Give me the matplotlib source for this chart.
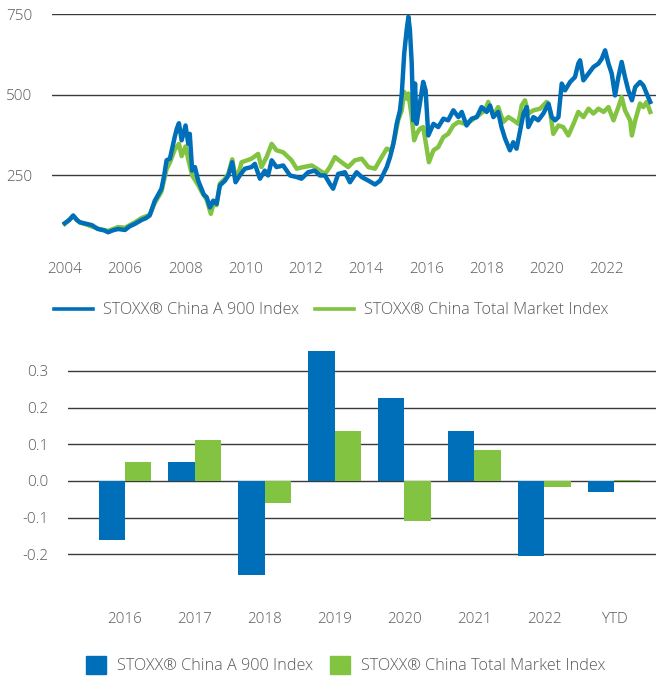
import matplotlib.pyplot as plt
import matplotlib.patches as mpatches
from matplotlib.lines import Line2D

# index levels (decimal years)
a900_t = [2004.0, 2004.15, 2004.28, 2004.4, 2004.5, 2004.72, 2004.9, 2005.1, 2005.3, 2005.44,
          2005.6, 2005.77, 2006.0, 2006.15, 2006.33, 2006.55, 2006.7, 2006.82, 2006.99, 2007.1,
          2007.21, 2007.3, 2007.38, 2007.49, 2007.58, 2007.65, 2007.72, 2007.79, 2007.88, 2008.01,
          2008.1, 2008.15, 2008.23, 2008.32, 2008.43, 2008.54, 2008.62, 2008.71, 2008.82, 2008.87,
          2008.93, 2009.04, 2009.15, 2009.32, 2009.43, 2009.56, 2009.67, 2009.81, 2009.98, 2010.2,
          2010.31, 2010.48, 2010.64, 2010.75, 2010.87, 2011.03, 2011.25, 2011.48, 2011.7, 2011.86,
          2012.08, 2012.3, 2012.47, 2012.64, 2012.8, 2012.91, 2013.08, 2013.3, 2013.47, 2013.69,
          2013.86, 2014.08, 2014.3, 2014.47, 2014.58, 2014.69, 2014.8, 2014.91, 2015.02, 2015.13,
          2015.19, 2015.27, 2015.35, 2015.41, 2015.46, 2015.52, 2015.57, 2015.63, 2015.68, 2015.79,
          2015.9, 2015.98, 2016.07, 2016.24, 2016.4, 2016.57, 2016.73, 2016.9, 2017.07, 2017.18,
          2017.34, 2017.51, 2017.68, 2017.84, 2018.01, 2018.12, 2018.23, 2018.39, 2018.5, 2018.62,
          2018.78, 2018.89, 2019.0, 2019.12, 2019.23, 2019.34, 2019.39, 2019.56, 2019.72, 2019.89,
          2020.06, 2020.17, 2020.28, 2020.39, 2020.5, 2020.61, 2020.78, 2020.94, 2021.05, 2021.11,
          2021.22, 2021.39, 2021.55, 2021.72, 2021.83, 2021.94, 2022.05, 2022.16, 2022.27, 2022.38,
          2022.49, 2022.6, 2022.71, 2022.83, 2022.94, 2023.1, 2023.21, 2023.32, 2023.44]
a900_v = [102, 112, 126, 112, 105, 100, 96, 84, 80, 74,
          80, 84, 81, 92, 100, 112, 118, 126, 172, 190,
          209, 250, 297, 302, 340, 369, 395, 412, 359, 405,
          348, 379, 265, 276, 234, 209, 190, 183, 151, 160,
          172, 162, 219, 234, 250, 291, 229, 250, 271, 276,
          286, 240, 265, 250, 297, 276, 281, 250, 245, 240,
          260, 265, 250, 250, 224, 209, 255, 260, 229, 260,
          245, 234, 222, 234, 255, 276, 307, 348, 410, 452,
          504, 628, 700, 742, 700, 597, 421, 535, 410, 473,
          540, 514, 374, 410, 400, 426, 421, 452, 431, 447,
          405, 426, 431, 462, 447, 467, 431, 447, 400, 364,
          328, 353, 333, 390, 442, 462, 400, 431, 421, 442,
          473, 431, 421, 431, 535, 514, 540, 555, 597, 607,
          545, 566, 586, 597, 612, 638, 597, 566, 498, 555,
          602, 555, 514, 483, 524, 540, 529, 504, 478]

total_t = [2004.0, 2004.28, 2004.5, 2004.72, 2005.1, 2005.44, 2005.77, 2006.0, 2006.33, 2006.55,
           2006.82, 2006.99, 2007.21, 2007.38, 2007.49, 2007.65, 2007.79, 2007.88, 2008.01, 2008.1,
           2008.23, 2008.43, 2008.54, 2008.71, 2008.85, 2008.93, 2009.04, 2009.15, 2009.32, 2009.43,
           2009.56, 2009.67, 2009.81, 2009.87, 2010.2, 2010.42, 2010.53, 2010.7, 2010.87, 2011.03,
           2011.25, 2011.53, 2011.7, 2011.92, 2012.2, 2012.47, 2012.64, 2012.8, 2012.97, 2013.19,
           2013.41, 2013.63, 2013.86, 2014.08, 2014.3, 2014.52, 2014.69, 2014.85, 2014.96, 2015.07,
           2015.19, 2015.27, 2015.35, 2015.41, 2015.52, 2015.6, 2015.68, 2015.79, 2015.9, 2016.01,
           2016.09, 2016.24, 2016.4, 2016.57, 2016.73, 2016.9, 2017.07, 2017.29, 2017.51, 2017.73,
           2017.95, 2018.06, 2018.23, 2018.39, 2018.56, 2018.73, 2018.9, 2019.06, 2019.17, 2019.28,
           2019.39, 2019.56, 2019.78, 2020.0, 2020.11, 2020.22, 2020.39, 2020.55, 2020.72, 2020.89,
           2021.05, 2021.22, 2021.39, 2021.55, 2021.72, 2021.89, 2022.05, 2022.22, 2022.38, 2022.49,
           2022.6, 2022.77, 2022.83, 2022.94, 2023.1, 2023.21, 2023.32, 2023.44]
total_v = [100, 124, 104, 98, 85, 78, 90, 88, 105, 118,
           128, 165, 200, 270, 290, 330, 348, 310, 340, 300,
           250, 220, 200, 175, 131, 160, 158, 225, 240, 255,
           300, 240, 270, 291, 302, 317, 276, 307, 348, 328,
           322, 297, 271, 276, 281, 265, 255, 276, 307, 291,
           276, 297, 302, 276, 271, 307, 333, 328, 369, 421,
           452, 509, 488, 504, 431, 359, 379, 395, 400, 338,
           291, 328, 338, 369, 379, 405, 416, 410, 421, 436,
           452, 478, 436, 462, 416, 431, 421, 410, 467, 483,
           442, 452, 457, 478, 452, 379, 405, 400, 374, 410,
           447, 431, 457, 442, 457, 447, 462, 421, 462, 493,
           452, 421, 374, 421, 473, 462, 478, 447]

years = ['2016', '2017', '2018', '2019', '2020', '2021', '2022', 'YTD']
a900_ret = [-0.162, 0.053, -0.257, 0.355, 0.225, 0.135, -0.205, -0.029]
total_ret = [0.053, 0.113, -0.061, 0.135, -0.108, 0.085, -0.017, 0.002]

names = ['STOXX® China A 900 Index', 'STOXX® China Total Market Index']

BLUE = '#006FB9'
GREEN = '#82C341'
TXT = '#5a5a5a'
GRID = '#3a3a3a'

plt.rcParams['font.family'] = ['Open Sans', 'DejaVu Sans']
plt.rcParams['font.weight'] = 'light'
plt.rcParams['font.size'] = 11

fig = plt.figure(figsize=(6.56, 6.76), dpi=100)

# ---- top: index levels
ax1 = fig.add_axes([0.079, 0.645, 0.921, 0.334])
ax1.plot(total_t, total_v, color=GREEN, lw=3.2, zorder=2)
ax1.plot(a900_t, a900_v, color=BLUE, lw=3.2, zorder=3)
ax1.set_xlim(2003.57, 2023.63)
ax1.set_ylim(50, 750)
ax1.set_yticks([250, 500, 750])
ax1.set_xticks(range(2004, 2023, 2))
ax1.grid(axis='y', color=GRID, lw=1.0)
ax1.set_axisbelow(True)
ax1.tick_params(length=0, colors=TXT, labelsize=11)
ax1.tick_params(axis='x', pad=16)
ax1.tick_params(axis='y', pad=14)
for s in ax1.spines.values():
    s.set_visible(False)

h1 = [Line2D([], [], color=BLUE, lw=2.6), Line2D([], [], color=GREEN, lw=2.6)]
fig.legend(h1, names, loc='center', bbox_to_anchor=(0.505, 0.541), ncol=2, frameon=False,
           handlelength=2.4, handletextpad=0.6, columnspacing=1.0, labelcolor=TXT, fontsize=11.7)

# ---- bottom: yearly returns
ax2 = fig.add_axes([0.1037, 0.1148, 0.8963, 0.3745])
x = range(len(years))
w = 0.378
ax2.bar([i - w / 2 for i in x], a900_ret, width=w, color=BLUE, zorder=3)
ax2.bar([i + w / 2 for i in x], total_ret, width=w, color=GREEN, zorder=3)
ax2.set_xlim(-0.815, 7.6)
ax2.set_ylim(-0.32, 0.37)
ax2.set_yticks([-0.2, -0.1, 0.0, 0.1, 0.2, 0.3])
ax2.set_yticklabels(['-0.2', '-0.1', '0.0', '0.1', '0.2', '0.3'])
ax2.set_xticks(list(x))
ax2.set_xticklabels(years)
ax2.grid(axis='y', color=GRID, lw=1.0)
ax2.set_axisbelow(True)
ax2.tick_params(length=0, colors=TXT, labelsize=11)
ax2.tick_params(axis='x', pad=10)
ax2.tick_params(axis='y', pad=14)
for s in ax2.spines.values():
    s.set_visible(False)

h2 = [mpatches.Patch(color=BLUE), mpatches.Patch(color=GREEN)]
fig.legend(h2, names, loc='center', bbox_to_anchor=(0.527, 0.016), ncol=2, frameon=False,
           handlelength=1.25, handleheight=1.35, handletextpad=0.7, columnspacing=1.0,
           labelcolor=TXT, fontsize=11.7)

fig.savefig('out.png', dpi=100)
